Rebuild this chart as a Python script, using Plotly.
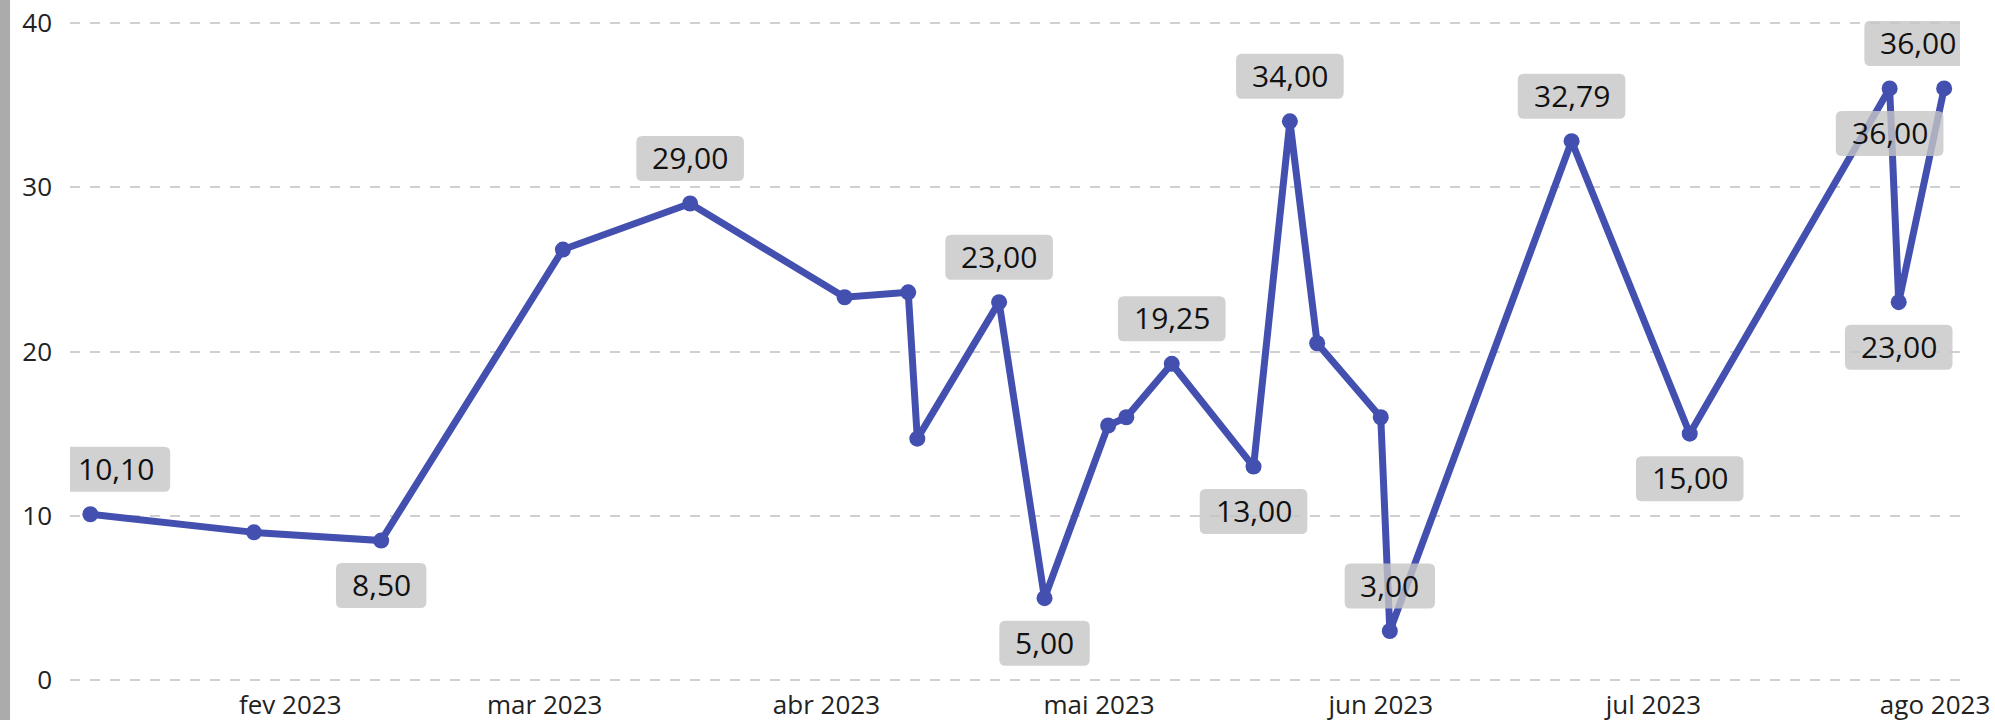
import plotly.graph_objects as go

# ---- data ----
dates = ["2023-01-10", "2023-01-28", "2023-02-11", "2023-03-03", "2023-03-17",
         "2023-04-03", "2023-04-10", "2023-04-11", "2023-04-20", "2023-04-25",
         "2023-05-02", "2023-05-04", "2023-05-09", "2023-05-18", "2023-05-22",
         "2023-05-25", "2023-06-01", "2023-06-02", "2023-06-22", "2023-07-05",
         "2023-07-27", "2023-07-28", "2023-08-02"]
values = [10.10, 9.0, 8.50, 26.2, 29.00,
          23.3, 23.6, 14.7, 23.00, 5.00,
          15.5, 16.0, 19.25, 13.00, 34.00,
          20.5, 16.0, 3.00, 32.79, 15.00,
          36.00, 23.00, 36.00]
# labelled points: index, position (1 above / -1 below), horizontal nudge
label_idx = [0, 2, 4, 8, 9, 12, 13, 14, 17, 18, 19, 20, 21, 22]
label_pos = [1, -1, 1, 1, -1, 1, -1, 1, 1, 1, -1, -1, -1, 1]
label_nudge = [26, 0, 0, 0, 0, 0, 0, 0, 0, 0, 0, 0, 0, -26]

tick_dates = ["2023-02-01", "2023-03-01", "2023-04-01", "2023-05-01",
              "2023-06-01", "2023-07-01", "2023-08-01"]
tick_text = ["fev 2023", "mar 2023", "abr 2023", "mai 2023",
             "jun 2023", "jul 2023", "ago 2023"]
y_ticks = [0, 10, 20, 30, 40]

LINE_COLOR = "#4350B0"
FONT = "Open Sans"

fig = go.Figure()
fig.add_trace(go.Scatter(
    x=dates, y=values, mode="lines+markers",
    line=dict(color=LINE_COLOR, width=7),
    marker=dict(color=LINE_COLOR, size=16),
    hoverinfo="x+y", showlegend=False,
))


def fmt(v):
    return f"{v:.2f}".replace(".", ",")


def rounded_box(cx, cy, w, h, r):
    # path in pixel offsets relative to the anchor point (y positive = up)
    x0, x1 = cx - w / 2, cx + w / 2
    y0, y1 = cy - h / 2, cy + h / 2
    return (f"M {x0 + r},{y0} L {x1 - r},{y0} Q {x1},{y0} {x1},{y0 + r} "
            f"L {x1},{y1 - r} Q {x1},{y1} {x1 - r},{y1} "
            f"L {x0 + r},{y1} Q {x0},{y1} {x0},{y1 - r} "
            f"L {x0},{y0 + r} Q {x0},{y0} {x0 + r},{y0} Z")


for i, pos, nudge in zip(label_idx, label_pos, label_nudge):
    txt = fmt(values[i])
    ndig = sum(c.isdigit() for c in txt)
    box_w = ndig * 17.2 + 7.8 + 31
    fig.add_shape(
        type="path", xref="x", yref="y",
        xsizemode="pixel", ysizemode="pixel",
        xanchor=dates[i], yanchor=values[i],
        path=rounded_box(nudge, 45 * pos, box_w, 45, 6),
        fillcolor="rgba(198,198,198,0.8)", line=dict(width=0), layer="above",
    )
    fig.add_annotation(
        x=dates[i], y=values[i], xref="x", yref="y",
        text=txt, showarrow=False,
        font=dict(family=FONT, size=30, color="#111111"),
        xanchor="center", yanchor="middle",
        yshift=45 * pos + 1, xshift=nudge,
    )

# grey strip at the left edge of the image
fig.add_shape(type="rect", xref="paper", yref="paper",
              x0=-70 / 1890, x1=-60 / 1890, y0=-0.1, y1=1.1,
              fillcolor="#ababab", line=dict(width=0), layer="above")

fig.update_layout(
    width=1995, height=720,
    margin=dict(l=70, r=35, t=21, b=38, autoexpand=False),
    paper_bgcolor="white", plot_bgcolor="white",
    font=dict(family=FONT, size=26, color="#222222"),
    xaxis=dict(
        type="date", automargin=False,
        range=["2023-01-07 18:10", "2023-08-03 17:50"],
        tickmode="array", tickvals=tick_dates, ticktext=tick_text,
        showgrid=False, zeroline=False, showline=False, ticks="",
        ticklabelstandoff=5, ticklabeloverflow="allow",
        tickfont=dict(family=FONT, size=26, color="#222222"),
    ),
    yaxis=dict(
        range=[-0.1, 40.1], automargin=False,
        tickmode="array", tickvals=y_ticks,
        showgrid=True, gridcolor="#d0d0d0", gridwidth=2, griddash="10px,10px",
        zeroline=False, showline=False, ticks="",
        ticklabelstandoff=17,
        tickfont=dict(family=FONT, size=26, color="#222222"),
    ),
)

fig.write_html("out.html", config={"displayModeBar": False},
               post_script="document.body.style.margin='0';"
                           "document.body.style.overflow='hidden';")
